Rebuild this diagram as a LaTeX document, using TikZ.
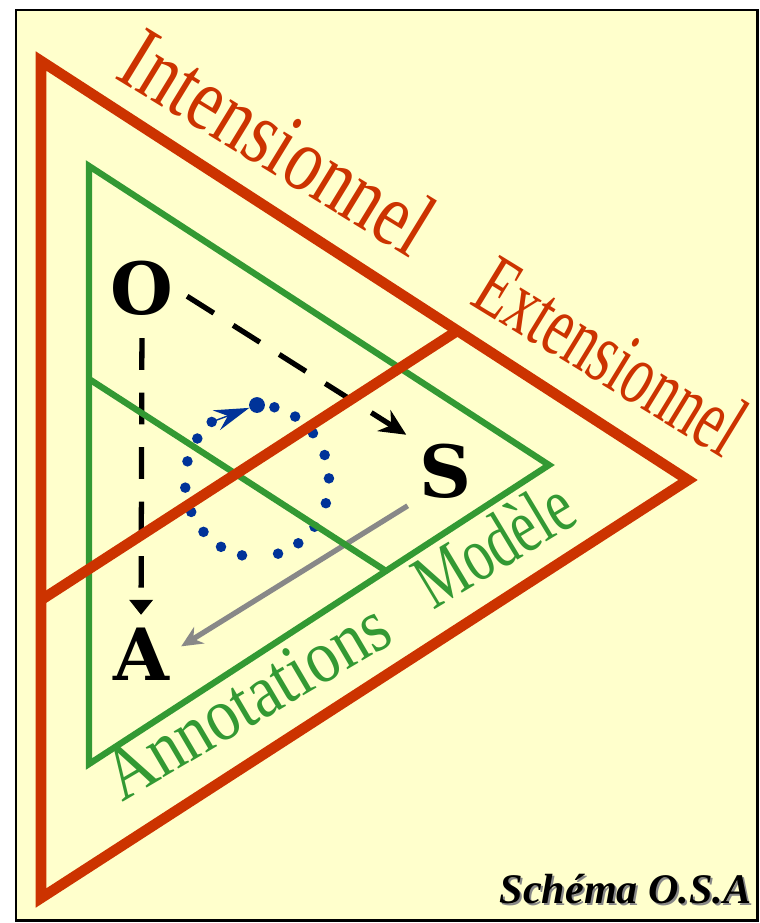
\documentclass[tikz,border=0pt]{standalone}
\usepackage{fontspec}
\setmainfont{Liberation Serif}
\newfontfamily\letterfont{DejaVu Serif}
\newfontfamily\intensfont[FakeStretch=0.77]{Liberation Serif}
\newfontfamily\extensfont[FakeStretch=0.65]{Liberation Serif}
\newfontfamily\annotfont[FakeStretch=0.86]{Liberation Serif}
\newfontfamily\modelefont[FakeStretch=0.73]{Liberation Serif}
\usetikzlibrary{arrows.meta, positioning}
\definecolor{xRed}{RGB}{204,51,0}
\definecolor{xGreen}{RGB}{51,153,51}
\definecolor{xBlue}{RGB}{0,51,153}
\definecolor{xPaper}{RGB}{255,255,204}
\definecolor{xGray}{RGB}{136,136,136}
\tikzset{
  frame/.style={draw=black, line width=1.7pt, fill=xPaper},
  letter/.style={font=\letterfont\fontsize{41}{41}\selectfont\bfseries, inner sep=0pt, anchor=base},
  redlabel/.style={text=xRed, inner sep=0pt, anchor=base},
  greenlabel/.style={text=xGreen, inner sep=0pt, anchor=base},
  outerzone/.style={xRed, line width=6pt, line join=miter},
  innerzone/.style={xGreen, line width=3.6pt, line join=miter},
  dashlink/.style={line width=3pt, dash pattern=on 18pt off 13pt},
  greylink/.style={xGray, line width=3pt, -{Stealth[length=12pt, width=11pt]}},
  loopdot/.style={xBlue},
  bigdot/.style={circle, fill=xBlue, inner sep=0pt, minimum size=9pt},
  stamp/.style={anchor=base east, inner sep=0pt, font=\fontsize{24}{24}\selectfont\bfseries\itshape},
}

\begin{document}
\begin{tikzpicture}[x=0.02cm, y=-0.02cm]
    \useasboundingbox (0,0) rectangle (760,923);
    \draw[frame] (16,10) rectangle (757,920);
    \node[letter] (O) at (142,314) {O};
    \node[letter] (S) at (446,497) {S};
    \node[letter] (A) at (141,680) {A};
    \draw[dashlink, -{Stealth[length=15pt, width=14pt]}, shorten <=9pt, shorten >=9pt] (O.east) -- (S.north west);
    \draw[dashlink, -{Triangle[length=8.5pt, width=13pt]}, shorten <=13pt, shorten >=7pt] (O.south) -- (A.north);
    \draw[greylink, shorten <=8pt, shorten >=8pt] (S.south west) -- (A.east);
    \foreach \a in {76,58,39,20,2,-17,-37,-55,-73,-102,-120,-138,-156,-175,165,146,129}
      \fill[loopdot] ({257+72*cos(\a)},{481-76*sin(\a)}) circle[radius=3pt];
    \node[bigdot] (loopstart) at (257,405) {};
    \coordinate (loopend) at ({257+72*cos(129)},{481-76*sin(129)});
    \draw[xBlue, line width=0.8pt, -{Stealth[length=20pt, width=12pt, inset=7pt]}] (loopend) -- (loopstart);
    \draw[innerzone] (89,166) -- (549,465) -- (89,764) -- cycle;
    \draw[innerzone] (89,379) -- (386,571);
    \draw[outerzone] (41,61) -- (688,480) -- (41,898) -- cycle;
    \draw[outerzone] (41,600) -- (457,331);
    \node[redlabel, rotate=-31.5, font=\intensfont\fontsize{52}{52}\selectfont] (intens) at (262,168) {Intensionnel};
    \node[redlabel, rotate=-31.5, font=\extensfont\fontsize{50}{50}\selectfont] (extens) at (596,381) {Extensionnel};
    \node[greenlabel, rotate=30.5, font=\annotfont\fontsize{43}{43}\selectfont] (annot) at (259,722) {Annotations};
    \node[greenlabel, rotate=31, font=\modelefont\fontsize{44}{44}\selectfont] (modele) at (507,566) {Modèle};
    \node[stamp, text=xGray] (stampshade) at (754,905) {Schéma O.S.A};
    \node[stamp] (stamp) at (752,903) {Schéma O.S.A};
\end{tikzpicture}
\end{document}
